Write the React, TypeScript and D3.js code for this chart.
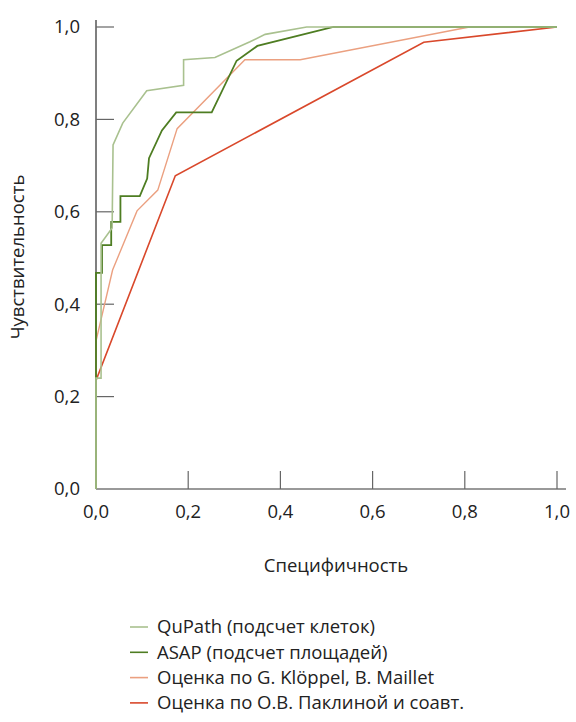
import React, { useEffect, useRef } from "react";
import * as d3 from "d3";

// ROC curves, [1 - specificity, sensitivity]
const quPath = [
  [0, 0], [0, 0.24], [0.011, 0.24], [0.011, 0.532], [0.035, 0.565], [0.037, 0.745],
  [0.058, 0.792], [0.11, 0.862], [0.19, 0.874], [0.19, 0.929], [0.258, 0.934],
  [0.334, 0.968], [0.367, 0.984], [0.457, 1.0], [1, 1],
];
const asap = [
  [0, 0], [0, 0.468], [0.013, 0.468], [0.013, 0.528], [0.033, 0.528], [0.033, 0.578],
  [0.053, 0.578], [0.053, 0.634], [0.095, 0.634], [0.111, 0.672], [0.115, 0.716],
  [0.143, 0.776], [0.174, 0.815], [0.251, 0.815], [0.305, 0.927], [0.35, 0.959],
  [0.515, 1.0], [1, 1],
];
const kloppel = [
  [0, 0], [0, 0.32], [0.036, 0.474], [0.089, 0.602], [0.134, 0.647], [0.176, 0.78],
  [0.323, 0.929], [0.443, 0.929], [0.81, 1.0], [1, 1],
];
const paklina = [[0, 0], [0, 0.235], [0.172, 0.678], [0.711, 0.967], [1, 1]];

const seriesNames = [
  "QuPath (подсчет клеток)",
  "ASAP (подсчет площадей)",
  "Оценка по G. Klöppel, B. Maillet",
  "Оценка по О.В. Паклиной и соавт.",
];
const seriesColors = ["#a9c18f", "#4e7d22", "#eba080", "#d9482b"];
const tickValues = [0, 0.2, 0.4, 0.6, 0.8, 1.0];
const xTitle = "Специфичность";
const yTitle = "Чувствительность";

const FONT = "'Open Sans', sans-serif";
const FS = "18.5px";

const App = () => {
  const ref = useRef(null);

  useEffect(() => {
    const svg = d3.select(ref.current);
    svg.selectAll("*").remove();

    const x = d3.scaleLinear().domain([0, 1]).range([96, 557]);
    const y = d3.scaleLinear().domain([0, 1]).range([489, 27]);
    const fmt = (v) => d3.format(".1f")(v).replace(".", ",");

    // axes lines
    svg.append("line")
      .attr("x1", x(0)).attr("x2", 566)
      .attr("y1", y(0)).attr("y2", y(0))
      .attr("stroke", "#777").attr("stroke-width", 1.5);
    svg.append("line")
      .attr("x1", x(0)).attr("x2", x(0))
      .attr("y1", 20).attr("y2", y(0))
      .attr("stroke", "#555").attr("stroke-width", 1.5);

    // inward ticks
    svg.append("g").selectAll("line")
      .data(tickValues.slice(1))
      .join("line")
      .attr("x1", x(0)).attr("x2", x(0) + 18)
      .attr("y1", (d) => y(d)).attr("y2", (d) => y(d))
      .attr("stroke", "#666").attr("stroke-width", 1.2);
    svg.append("g").selectAll("line")
      .data(tickValues.slice(1))
      .join("line")
      .attr("x1", (d) => x(d)).attr("x2", (d) => x(d))
      .attr("y1", y(0)).attr("y2", y(0) - 18)
      .attr("stroke", "#666").attr("stroke-width", 1.2);

    // tick labels
    svg.append("g").selectAll("text")
      .data(tickValues)
      .join("text")
      .attr("x", 80)
      .attr("y", (d) => y(d))
      .attr("dy", "0.35em")
      .attr("text-anchor", "end")
      .style("font-family", FONT).style("font-size", FS).attr("fill", "#222")
      .text(fmt);
    svg.append("g").selectAll("text")
      .data(tickValues)
      .join("text")
      .attr("x", (d) => x(d))
      .attr("y", 512)
      .attr("dy", "0.35em")
      .attr("text-anchor", "middle")
      .style("font-family", FONT).style("font-size", FS).attr("fill", "#222")
      .text(fmt);

    // axis titles
    svg.append("text")
      .attr("x", 336).attr("y", 566).attr("dy", "0.35em")
      .attr("text-anchor", "middle")
      .style("font-family", FONT).style("font-size", FS).attr("fill", "#222")
      .text(xTitle);
    svg.append("text")
      .attr("transform", "translate(18,257) rotate(-90)")
      .attr("dy", "0.35em")
      .attr("text-anchor", "middle")
      .style("font-family", FONT).style("font-size", FS).attr("fill", "#222")
      .text(yTitle);

    // curves
    const line = d3.line().x((d) => x(d[0])).y((d) => y(d[1]));
    const all = [quPath, asap, kloppel, paklina];
    const widths = [1.6, 1.8, 1.4, 1.6];
    // draw order: lighter ones behind
    [3, 2, 1, 0].forEach((i) => {
      svg.append("path")
        .datum(all[i])
        .attr("fill", "none")
        .attr("stroke", seriesColors[i])
        .attr("stroke-width", widths[i])
        .attr("stroke-linejoin", "miter")
        .attr("d", line);
    });

    // legend
    const legend = svg.append("g").attr("transform", "translate(130,627)");
    seriesNames.forEach((name, i) => {
      const g = legend.append("g").attr("transform", `translate(0,${i * 25.3})`);
      g.append("line")
        .attr("x1", 0).attr("x2", 18)
        .attr("stroke", seriesColors[i]).attr("stroke-width", 1.6);
      g.append("text")
        .attr("x", 27).attr("dy", "0.35em")
        .style("font-family", FONT).style("font-size", FS).attr("fill", "#222")
        .text(name);
    });
  }, []);

  return (
    <svg
      ref={ref}
      width={576}
      height={722}
      style={{ position: "absolute", left: 0, top: 0, background: "#fff" }}
    />
  );
};

export default App;
